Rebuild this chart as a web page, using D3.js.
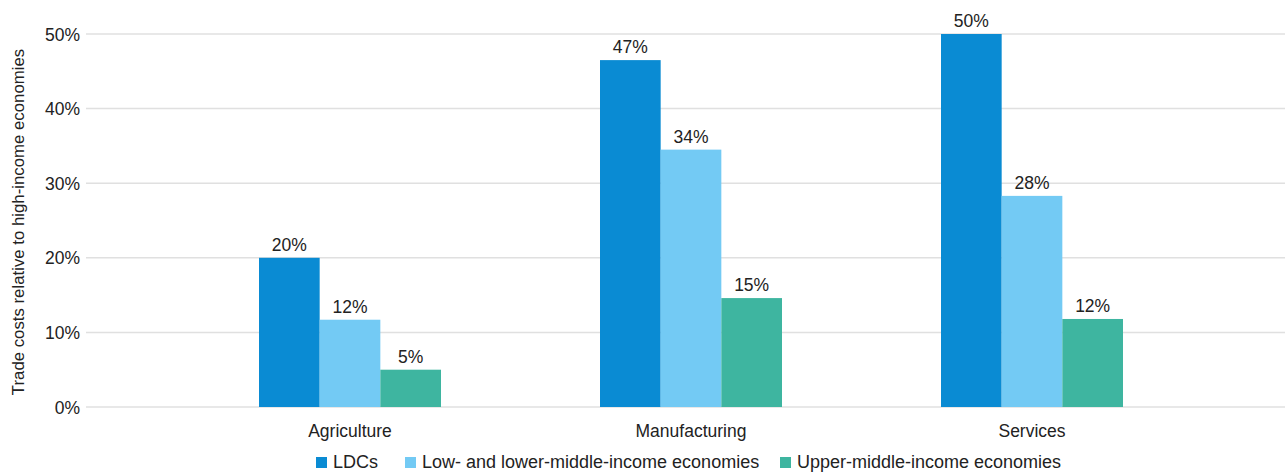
<!DOCTYPE html>
<html><head><meta charset="utf-8">
<script src="https://cdn.jsdelivr.net/npm/d3@7"></script>
<style>body{margin:0;background:#fff}svg{display:block;font-family:"Liberation Sans",Arial,Helvetica,sans-serif}</style>
</head><body><svg id="c" width="1285" height="473"></svg>
<script>
const categories = ["Agriculture", "Manufacturing", "Services"];
const seriesNames = ["LDCs", "Low- and lower-middle-income economies", "Upper-middle-income economies"];
const ldcs = [20.0, 46.5, 50.0];
const lowLower = [11.7, 34.5, 28.3];
const upperMiddle = [5.0, 14.6, 11.8];
const valueLabels = [["20%", "47%", "50%"], ["12%", "34%", "28%"], ["5%", "15%", "12%"]];
const yTicks = [0, 10, 20, 30, 40, 50];
const colors = ["#0a8bd3", "#73caf4", "#3eb5a0"];

const FS = 17.5;
const series = [ldcs, lowLower, upperMiddle];
const svg = d3.select("#c");
const x = d3.scaleBand().domain(categories).range([179.5, 1202.5]).paddingInner(0).paddingOuter(0);
const half = 91;
const xs = d3.scaleBand().domain(d3.range(series.length)).range([x.bandwidth() / 2 - half, x.bandwidth() / 2 + half]).padding(0);
const y = d3.scaleLinear().domain([0, 50]).range([407, 34]);

// gridlines
svg.append("g").selectAll("line").data(yTicks).join("line")
  .attr("x1", 86).attr("x2", 1285)
  .attr("y1", d => y(d)).attr("y2", d => y(d))
  .attr("stroke", "#e0e0e0").attr("stroke-width", 1.5);

// y tick labels
const yAxis = d3.axisLeft(y).tickValues(yTicks).tickFormat(d => d + "%").tickSize(0).tickPadding(0);
const ga = svg.append("g").attr("transform", "translate(80,0)").call(yAxis);
ga.select(".domain").remove();
ga.selectAll("text").attr("font-size", FS).attr("fill", "#222").attr("font-family", "Liberation Sans,Arial,sans-serif").attr("dy", "0.35em");

// x labels
const xAxis = d3.axisBottom(x).tickSize(0).tickPadding(0);
const gx = svg.append("g").attr("transform", "translate(0,425)").call(xAxis);
gx.select(".domain").remove();
gx.selectAll("text").attr("font-size", FS).attr("fill", "#222").attr("font-family", "Liberation Sans,Arial,sans-serif");

// bars
series.forEach((vals, si) => {
  const g = svg.append("g");
  g.selectAll("rect").data(vals).join("rect")
    .attr("x", (d, i) => x(categories[i]) + xs(si))
    .attr("y", d => y(d))
    .attr("width", xs.bandwidth())
    .attr("height", d => y(0) - y(d))
    .attr("fill", colors[si]);
  g.selectAll("text").data(vals).join("text")
    .attr("x", (d, i) => x(categories[i]) + xs(si) + xs.bandwidth() / 2)
    .attr("y", d => y(d) - 7)
    .attr("text-anchor", "middle")
    .attr("font-size", FS).attr("fill", "#222")
    .text((d, i) => valueLabels[si][i]);
});

// y title
svg.append("text").attr("transform", "translate(24,222) rotate(-90)")
  .attr("text-anchor", "middle").attr("font-size", 16.8).attr("fill", "#222")
  .text("Trade costs relative to high-income economies");

// legend
const legendX = [316, 405, 780];
const lg = svg.append("g");
seriesNames.forEach((n, i) => {
  lg.append("rect").attr("x", legendX[i]).attr("y", 457).attr("width", 11).attr("height", 11).attr("fill", colors[i]);
  lg.append("text").attr("x", legendX[i] + 17).attr("y", 468).attr("font-size", 18).attr("fill", "#222").text(n);
});
</script></body></html>
